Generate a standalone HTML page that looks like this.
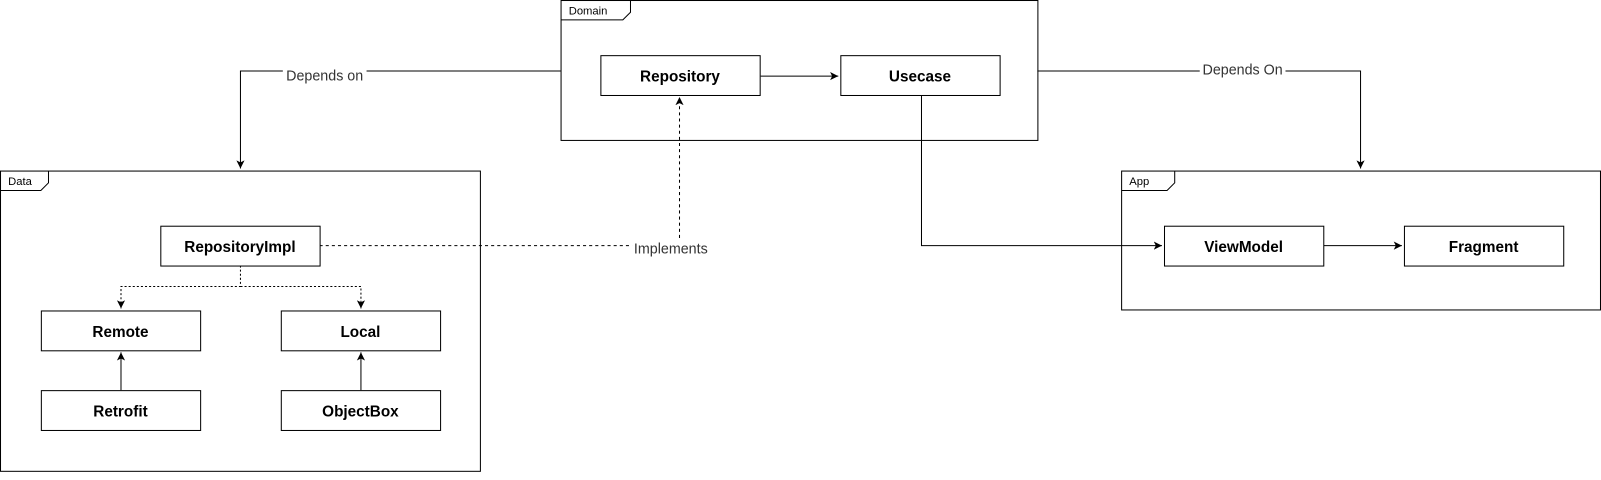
<!DOCTYPE html>
<html><head><meta charset="utf-8"><style>
html,body{margin:0;padding:0;background:#fff;}
svg{display:block;font-family:"Liberation Sans",Helvetica,Arial,sans-serif;}
.b{fill:#fff;stroke:#000;stroke-width:1;}
.t{font-size:15px;font-weight:bold;text-anchor:middle;}
.tab{font-size:11px;}
.l{font-size:14px;fill:#333;text-anchor:middle;}
</style></head><body>
<svg width="1601" height="480" viewBox="0 0 1568 470" preserveAspectRatio="none">
<defs>
<marker id="a" markerWidth="10" markerHeight="10" refX="8" refY="5" orient="auto" markerUnits="userSpaceOnUse">
<path d="M0,1 L8,5 L0,9 L2,5 Z" fill="#000"/></marker>
</defs>
<rect class="b" x="549.5" y="0.5" width="467" height="137"/>
<path d="M549.5,19.5 H610 L617.5,12 V0.5" fill="none" stroke="#000"/>
<text class="tab" x="557" y="14">Domain</text>
<rect class="b" x="0.5" y="167.5" width="470" height="294"/>
<path d="M0.5,186.5 H40 L47.5,179 V167.5" fill="none" stroke="#000"/>
<text class="tab" x="8" y="181">Data</text>
<rect class="b" x="1098.5" y="167.5" width="469" height="136"/>
<path d="M1098.5,186.5 H1143 L1150.5,179 V167.5" fill="none" stroke="#000"/>
<text class="tab" x="1106" y="181">App</text>
<g fill="none" stroke="#000">
<path d="M549,69.5 H235.5 V165" marker-end="url(#a)"/>
<path d="M1016,69.5 H1332.5 V165" marker-end="url(#a)"/>
<path d="M745,74.5 H821" marker-end="url(#a)"/>
<path d="M902.5,93 V240.5 H1138" marker-end="url(#a)"/>
<path d="M1296,240.5 H1373" marker-end="url(#a)"/>
<path d="M313,240.5 H665.5 V95" stroke-dasharray="3,3" marker-end="url(#a)"/>
<path d="M235.5,260 V280.5 H118.5 V296 M235.5,280.5 H353.5 V296" stroke-dasharray="2,2"/>
<path d="M118.5,296 V302" marker-end="url(#a)"/>
<path d="M353.5,296 V302" marker-end="url(#a)"/>
<path d="M118.5,382 V345" marker-end="url(#a)"/>
<path d="M353.5,382 V345" marker-end="url(#a)"/>
</g>
<rect x="277" y="66" width="82" height="16" fill="#fff"/>
<text class="l" x="318" y="79">Depends on</text>
<rect x="1175" y="60" width="84" height="16" fill="#fff"/>
<text class="l" x="1217" y="73">Depends On</text>
<rect x="619" y="234" width="78" height="16" fill="#fff"/>
<text class="l" x="657" y="248">Implements</text>
<rect class="b" x="588.5" y="54.5" width="156" height="39"/><text class="t" x="666" y="80">Repository</text>
<rect class="b" x="823.5" y="54.5" width="156" height="39"/><text class="t" x="901" y="80">Usecase</text>
<rect class="b" x="157.5" y="221.5" width="156" height="39"/><text class="t" x="235" y="247">RepositoryImpl</text>
<rect class="b" x="40.5" y="304.5" width="156" height="39"/><text class="t" x="118" y="330">Remote</text>
<rect class="b" x="275.5" y="304.5" width="156" height="39"/><text class="t" x="353" y="330">Local</text>
<rect class="b" x="40.5" y="382.5" width="156" height="39"/><text class="t" x="118" y="408">Retrofit</text>
<rect class="b" x="275.5" y="382.5" width="156" height="39"/><text class="t" x="353" y="408">ObjectBox</text>
<rect class="b" x="1140.5" y="221.5" width="156" height="39"/><text class="t" x="1218" y="247">ViewModel</text>
<rect class="b" x="1375.5" y="221.5" width="156" height="39"/><text class="t" x="1453" y="247">Fragment</text>
</svg>
</body></html>
